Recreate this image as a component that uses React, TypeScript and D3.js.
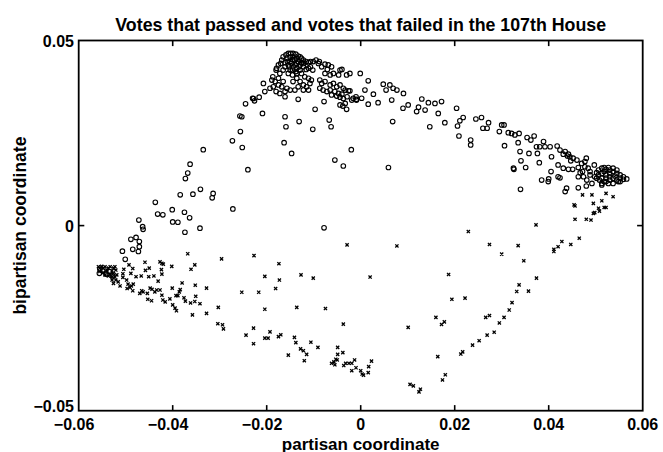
import React from 'react';
import * as d3 from 'd3';

const title = 'Votes that passed and votes that failed in the 107th House';
const xLabel = 'partisan coordinate';
const yLabel = 'bipartisan coordinate';
const xTicks = [-0.06, -0.04, -0.02, 0, 0.02, 0.04, 0.06];
const xTickLabels = ['\u22120.06', '\u22120.04', '\u22120.02', '0', '0.02', '0.04', '0.06'];
const yTicks = [-0.05, 0, 0.05];
const yTickLabels = ['\u22120.05', '0', '0.05'];

// votes that passed (circles): [partisan, bipartisan]
const passed: [number, number][] = [
  [-0.0556,-0.0129],[-0.0549,-0.0122],[-0.0542,-0.0131],[-0.0535,-0.0124],[-0.0528,-0.0136],[-0.0555,-0.0118],
  [-0.0507,-0.0069],[-0.0501,-0.0091],[-0.0485,-0.0064],[-0.0489,-0.0037],[-0.0478,-0.0032],[-0.0471,-0.0043],[-0.0471,-0.0057],[-0.0473,-0.0070],[-0.0472,0.0015],[-0.0464,-0.0003],[-0.0463,-0.0010],[-0.0437,0.0063],[-0.0432,0.0031],[-0.0421,0.0029],[-0.0401,0.0043],[-0.0400,0.0010],[-0.0389,0.0009],[-0.0375,0.0036],[-0.0364,0.0021],[-0.0374,-0.0018],[-0.0342,-0.0007],[-0.0272,0.0045],
  [-0.0273,0.0229],[-0.0256,0.0254],[-0.0252,0.0211],[-0.0240,0.0151],[-0.0257,0.0296],[-0.0253,0.0294],[-0.0245,0.0329],[-0.0230,0.0344],[-0.0226,0.0337],[-0.0216,0.0347],[-0.0335,0.0205],[-0.0363,0.0166],[-0.0368,0.0142],[-0.0373,0.0127],[-0.0384,0.0083],[-0.0357,0.0085],[-0.0341,0.0098],[-0.0316,0.0075],[-0.0314,0.0087],[-0.0078,-0.0006],
  [-0.0228,0.0343],[-0.0209,0.0303],[-0.0207,0.0384],[-0.0204,0.0362],[-0.0193,0.0371],[-0.0186,0.0375],[-0.0179,0.0425],[-0.0175,0.0398],[-0.0172,0.0411],[-0.0165,0.0420],[-0.0161,0.0348],[-0.0161,0.0294],[-0.0159,0.0267],[-0.0163,0.0224],[-0.0147,0.0195],[-0.0131,0.0281],[-0.0133,0.0341],[-0.0102,0.0260],[-0.0097,0.0314],[-0.0078,0.0335],[-0.0067,0.0285],[-0.0063,0.0267],[-0.0055,0.0177],[-0.0037,0.0161],[-0.0020,0.0205],[-0.0030,0.0314],[-0.0016,0.0344],[-0.0009,0.0339],[-0.0001,0.0411],[0.0016,0.0391],[0.0009,0.0366],[0.0016,0.0328],[0.0027,0.0355],[0.0037,0.0332],[0.0048,0.0382],[0.0054,0.0366],[0.0062,0.0380],[0.0069,0.0371],[0.0066,0.0339],[0.0068,0.0281],[0.0059,0.0157],[0.0077,0.0366],[0.0091,0.0357],[0.0090,0.0317],[0.0101,0.0326],[0.0119,0.0308],[0.0123,0.0320],[0.0130,0.0342],[0.0137,0.0312],[0.0144,0.0332],[0.0147,0.0267],[0.0158,0.0330],[0.0165,0.0303],[0.0172,0.0335],[0.0179,0.0278],
  [-0.0090,0.0438],[-0.0083,0.0429],[-0.0076,0.0436],[-0.0069,0.0434],[-0.0062,0.0429],[-0.0071,0.0422],[-0.0058,0.0411],[-0.0047,0.0407],[-0.0044,0.0420],[-0.0040,0.0422],[-0.0030,0.0407],[-0.0023,0.0411],[-0.0087,0.0393],[-0.0083,0.0384],[-0.0076,0.0389],[-0.0065,0.0380],[-0.0058,0.0384],[-0.0051,0.0375],[-0.0044,0.0380],[-0.0037,0.0371],[-0.0033,0.0366],[-0.0026,0.0364],[-0.0087,0.0371],[-0.0080,0.0366],[-0.0072,0.0362],[-0.0065,0.0366],[-0.0055,0.0362],[-0.0047,0.0357],[-0.0040,0.0355],[-0.0062,0.0353],[-0.0051,0.0350],[-0.0044,0.0347],[-0.0037,0.0343],[-0.0029,0.0348],[-0.0044,0.0326],[-0.0038,0.0323],[-0.0033,0.0330],[-0.0019,0.0339],[-0.0010,0.0348],[-0.0009,0.0341],[0.0002,0.0344],[-0.0023,0.0364],[-0.0076,0.0411],[-0.0065,0.0407],
  [-0.0189,0.0393],[-0.0182,0.0389],[-0.0187,0.0402],[-0.0180,0.0420],[-0.0175,0.0434],[-0.0170,0.0438],[-0.0168,0.0447],[-0.0165,0.0456],[-0.0159,0.0461],[-0.0154,0.0465],[-0.0149,0.0465],[-0.0144,0.0465],[-0.0138,0.0463],[-0.0133,0.0458],[-0.0129,0.0456],[-0.0126,0.0452],[-0.0122,0.0447],[-0.0116,0.0443],[-0.0111,0.0440],[-0.0107,0.0443],[-0.0101,0.0443],[-0.0095,0.0447],[-0.0088,0.0443],[-0.0161,0.0429],[-0.0154,0.0434],[-0.0150,0.0443],[-0.0145,0.0449],[-0.0140,0.0447],[-0.0136,0.0438],[-0.0129,0.0434],[-0.0122,0.0429],[-0.0116,0.0422],[-0.0111,0.0425],[-0.0107,0.0429],[-0.0102,0.0420],[-0.0129,0.0420],[-0.0136,0.0425],[-0.0144,0.0429],[-0.0150,0.0420],[-0.0154,0.0411],[-0.0145,0.0407],[-0.0136,0.0411],[-0.0126,0.0411],[-0.0119,0.0402],[-0.0111,0.0398],[-0.0105,0.0393],[-0.0129,0.0389],[-0.0122,0.0380],[-0.0115,0.0375],[-0.0136,0.0398],[-0.0144,0.0389],[-0.0133,0.0375],[-0.0122,0.0366],[-0.0111,0.0366],[-0.0108,0.0384],[-0.0165,0.0389],[-0.0168,0.0375],[-0.0157,0.0371],[-0.0150,0.0366],[-0.0140,0.0366],[-0.0161,0.0362],[-0.0172,0.0357],[-0.0180,0.0362],[-0.0175,0.0380],
  [-0.0157,0.0452],[-0.0150,0.0455],[-0.0144,0.0456],[-0.0136,0.0452],[-0.0147,0.0438],[-0.0140,0.0434],[-0.0133,0.0443],[-0.0126,0.0440],[-0.0156,0.0443],[-0.0161,0.0440],[-0.0152,0.0429],[-0.0145,0.0420],[-0.0138,0.0416],[-0.0131,0.0429],[-0.0122,0.0438],
  [0.0204,0.0317],[0.0206,0.0269],[0.0211,0.0283],[0.0218,0.0292],[0.0209,0.0242],[0.0234,0.0231],[0.0234,0.0218],[0.0245,0.0288],[0.0257,0.0292],[0.0260,0.0263],[0.0272,0.0278],[0.0269,0.0263],[0.0295,0.0254],[0.0300,0.0272],[0.0305,0.0272],[0.0314,0.0251],[0.0321,0.0249],[0.0328,0.0245],[0.0337,0.0249],[0.0335,0.0224],[0.0306,0.0216],[0.0339,0.0200],[0.0341,0.0175],[0.0340,0.0098],[0.0325,0.0155],[0.0326,0.0152],[0.0351,0.0157],[0.0358,0.0195],[0.0362,0.0231],[0.0354,0.0238],[0.0369,0.0242],[0.0374,0.0213],[0.0376,0.0195],[0.0380,0.0170],[0.0381,0.0213],[0.0392,0.0213],[0.0389,0.0227],[0.0403,0.0213],[0.0406,0.0186],[0.0405,0.0146],[0.0385,0.0123],[0.0399,0.0119],[0.0400,0.0126],[0.0418,0.0215],[0.0424,0.0204],[0.0435,0.0200],[0.0442,0.0193],[0.0440,0.0188],[0.0447,0.0175],[0.0431,0.0193],[0.0420,0.0164],[0.0431,0.0155],[0.0442,0.0152],[0.0451,0.0152],[0.0463,0.0157],[0.0467,0.0143],[0.0463,0.0132],[0.0420,0.0132],[0.0424,0.0129],[0.0438,0.0101],[0.0435,0.0092],[0.0463,0.0102],[0.0480,0.0107],[0.0477,0.0173],[0.0480,0.0182],[0.0488,0.0146],[0.0497,0.0164],[0.0492,0.0114],[0.0502,0.0128],[0.0513,0.0110],
  [0.0506,0.0150],[0.0513,0.0155],[0.0518,0.0157],[0.0522,0.0152],[0.0530,0.0150],[0.0537,0.0146],[0.0545,0.0141],[0.0552,0.0137],[0.0559,0.0132],[0.0566,0.0126],[0.0513,0.0141],[0.0522,0.0137],[0.0530,0.0132],[0.0537,0.0128],[0.0545,0.0123],[0.0552,0.0119],[0.0559,0.0125],[0.0508,0.0123],[0.0518,0.0119],[0.0527,0.0114],[0.0537,0.0114],[0.0548,0.0119],[0.0522,0.0128],[0.0530,0.0141],[0.0541,0.0134],[0.0552,0.0128],[0.0506,0.0137],[0.0513,0.0128],[0.0518,0.0146],[0.0527,0.0157],[0.0537,0.0155],[0.0545,0.0150],[0.0522,0.0119],[0.0530,0.0123],[0.0502,0.0143],[0.0498,0.0132],[0.0513,0.0114],
  [0.0445,0.0186],[0.0452,0.0182],[0.0460,0.0177],[0.0470,0.0168],[0.0477,0.0159],[0.0484,0.0155],[0.0488,0.0137],[0.0474,0.0132],[0.0481,0.0123],[0.0472,0.0146],
];

// votes that failed (crosses): [partisan, bipartisan]
const failed: [number, number][] = [
  [-0.0368,-0.0076],[-0.0296,-0.0090],[-0.0253,-0.0180],[-0.0328,-0.0169],[-0.0328,-0.0237],[-0.0303,-0.0221],[-0.0352,-0.0161],[-0.0351,-0.0191],[-0.0353,-0.0205],[-0.0362,-0.0209],[-0.0342,-0.0211],[-0.0358,-0.0241],[-0.0361,-0.0118],[-0.0353,-0.0106],[-0.0402,-0.0110],[-0.0380,-0.0155],[-0.0384,-0.0173],[-0.0386,-0.0179],[-0.0389,-0.0189],[-0.0393,-0.0189],[-0.0401,-0.0169],[-0.0406,-0.0198],[-0.0400,-0.0214],[-0.0395,-0.0223],[-0.0392,-0.0230],[-0.0376,-0.0195],[-0.0373,-0.0204],[-0.0420,-0.0104],[-0.0423,-0.0102],[-0.0427,-0.0098],[-0.0424,-0.0119],[-0.0423,-0.0131],[-0.0431,-0.0150],[-0.0440,-0.0136],[-0.0451,-0.0138],[-0.0458,-0.0121],[-0.0450,-0.0115],[-0.0459,-0.0099],[-0.0467,-0.0136],[-0.0478,-0.0138],[-0.0485,-0.0116],[-0.0489,-0.0129],[-0.0493,-0.0106],[-0.0504,-0.0118],[-0.0506,-0.0130],[-0.0506,-0.0140],[-0.0498,-0.0147],[-0.0495,-0.0158],[-0.0491,-0.0167],[-0.0488,-0.0163],[-0.0484,-0.0158],[-0.0485,-0.0176],[-0.0497,-0.0170],[-0.0512,-0.0163],[-0.0516,-0.0152],[-0.0521,-0.0147],[-0.0526,-0.0156],[-0.0529,-0.0138],[-0.0466,-0.0176],[-0.0470,-0.0183],[-0.0463,-0.0179],[-0.0454,-0.0183],[-0.0453,-0.0199],[-0.0445,-0.0203],[-0.0448,-0.0169],[-0.0444,-0.0172],[-0.0434,-0.0174],[-0.0438,-0.0179],[-0.0427,-0.0174],[-0.0423,-0.0188],[-0.0421,-0.0201],[-0.0416,-0.0206],[-0.0304,-0.0265],[-0.0294,-0.0268],[-0.0292,-0.0279],[-0.0244,-0.0296],
  [-0.0558,-0.0111],[-0.0555,-0.0115],[-0.0551,-0.0110],[-0.0548,-0.0115],[-0.0544,-0.0111],[-0.0540,-0.0120],[-0.0537,-0.0115],[-0.0533,-0.0111],[-0.0529,-0.0122],[-0.0526,-0.0115],[-0.0523,-0.0111],[-0.0555,-0.0124],[-0.0548,-0.0127],[-0.0540,-0.0124],[-0.0533,-0.0131],[-0.0526,-0.0129],[-0.0521,-0.0120],[-0.0519,-0.0133],[-0.0544,-0.0133],[-0.0529,-0.0147],[-0.0523,-0.0139],[-0.0537,-0.0136],
  [-0.0227,-0.0081],[-0.0174,-0.0103],[-0.0204,-0.0137],[-0.0173,-0.0147],[-0.0127,-0.0133],[-0.0101,-0.0142],[-0.0217,-0.0180],[-0.0181,-0.0170],[-0.0204,-0.0226],[-0.0136,-0.0221],[-0.0075,-0.0224],[-0.0029,-0.0052],[0.0077,-0.0055],[0.0020,-0.0139],[-0.0037,-0.0266],[-0.0228,-0.0277],[-0.0228,-0.0319],[-0.0193,-0.0287],[-0.0204,-0.0304],[-0.0197,-0.0304],[-0.0175,-0.0300],[-0.0170,-0.0295],[-0.0141,-0.0302],[-0.0138,-0.0316],[-0.0128,-0.0333],[-0.0122,-0.0338],[-0.0115,-0.0348],[-0.0154,-0.0350],[-0.0120,-0.0365],[-0.0106,-0.0315],[-0.0091,-0.0329],[-0.0049,-0.0329],[-0.0049,-0.0348],[-0.0038,-0.0343],[-0.0062,-0.0372],[-0.0057,-0.0368],[-0.0053,-0.0361],[-0.0050,-0.0363],[-0.0055,-0.0376],[-0.0036,-0.0378],[-0.0032,-0.0372],[-0.0025,-0.0372],[-0.0019,-0.0372],[-0.0013,-0.0363],[-0.0019,-0.0392],[-0.0010,-0.0384],[0.0000,-0.0392],[0.0003,-0.0401],[0.0006,-0.0404],[0.0016,-0.0397],[0.0017,-0.0381],[0.0023,-0.0366],[0.0101,-0.0275],[0.0105,-0.0429],[0.0112,-0.0433],[0.0124,-0.0449],[0.0127,-0.0442],[0.0164,-0.0354],[0.0174,-0.0417],[0.0180,-0.0403],[0.0160,-0.0248],[0.0172,-0.0267],[0.0178,-0.0260],[0.0187,-0.0132],[0.0238,-0.0323],[0.0252,-0.0311],[0.0269,-0.0296],[0.0284,-0.0288],[0.0295,-0.0263],[0.0266,-0.0248],[0.0274,-0.0243],[0.0213,-0.0347],[0.0217,-0.0341],
  [0.0472,0.0083],[0.0492,0.0083],[0.0513,0.0067],[0.0522,0.0087],[0.0537,0.0078],[0.0456,0.0053],[0.0454,0.0056],[0.0495,0.0060],[0.0506,0.0047],[0.0508,0.0039],[0.0518,0.0049],[0.0522,0.0049],[0.0495,0.0033],[0.0498,0.0035],[0.0456,0.0017],[0.0480,0.0017],[0.0490,0.0015],[0.0373,0.0002],[0.0229,-0.0016],[0.0274,-0.0051],[0.0300,-0.0077],[0.0335,-0.0054],[0.0347,-0.0095],[0.0374,-0.0142],[0.0337,-0.0160],[0.0332,-0.0178],[0.0357,-0.0177],[0.0411,-0.0064],[0.0411,-0.0070],[0.0420,-0.0057],[0.0428,-0.0043],[0.0447,-0.0051],[0.0465,-0.0034],[0.0222,-0.0196],[0.0194,-0.0199],
  [0.0305,-0.0248],[0.0316,-0.0228],[0.0322,-0.0208],
];

const W = 663;
const H = 452;
const plot = { left: 78.7, right: 642.7, top: 40.5, bottom: 410.7 };
const FONT = '"Liberation Sans", Arial, Helvetica, sans-serif';

export default function App() {
  const x = d3.scaleLinear().domain([-0.06, 0.06]).range([plot.left, plot.right]);
  const y = d3.scaleLinear().domain([-0.05, 0.05]).range([plot.bottom, plot.top]);
  const tickLen = 5.6;
  const half = 15.6; // half width of the unsigned label at 16px
  const cx = (plot.left + plot.right) / 2;
  const cy = (plot.top + plot.bottom) / 2;
  const crossPath = 'M-1.6,-1.6L1.6,1.6M-1.6,1.6L1.6,-1.6';

  return (
    <svg width={W} height={H} style={{ position: 'absolute', left: 0, top: 0, background: '#fff' }}
      fontFamily={FONT} fontWeight="bold">
      <rect x={0} y={0} width={W} height={H} fill="#fff" />
      <g>
        {passed.map((d, i) => (
          <circle key={'p' + i} cx={x(d[0])} cy={y(d[1])} r={2.3} fill="none" stroke="#000" strokeWidth={1.1} />
        ))}
        {failed.map((d, i) => (
          <path key={'f' + i} d={crossPath} transform={`translate(${x(d[0])},${y(d[1])})`} stroke="#000" strokeWidth={1.3} fill="none" />
        ))}
      </g>
      <rect x={plot.left} y={plot.top} width={plot.right - plot.left} height={plot.bottom - plot.top}
        fill="none" stroke="#000" strokeWidth={1.8} />
      {xTicks.slice(1, -1).map((t) => (
        <g key={'xt' + t}>
          <line x1={x(t)} x2={x(t)} y1={plot.bottom} y2={plot.bottom - tickLen} stroke="#000" strokeWidth={1.6} />
          <line x1={x(t)} x2={x(t)} y1={plot.top} y2={plot.top + tickLen} stroke="#000" strokeWidth={1.6} />
        </g>
      ))}
      {yTicks.slice(1, -1).map((t) => (
        <g key={'yt' + t}>
          <line x1={plot.left} x2={plot.left + tickLen} y1={y(t)} y2={y(t)} stroke="#000" strokeWidth={1.6} />
          <line x1={plot.right} x2={plot.right - tickLen} y1={y(t)} y2={y(t)} stroke="#000" strokeWidth={1.6} />
        </g>
      ))}
      {xTicks.map((t, i) => (
        <text key={'xl' + i} x={t < 0 ? x(t) + half : x(t)} y={430} fontSize={16}
          textAnchor={t < 0 ? 'end' : 'middle'}>{xTickLabels[i]}</text>
      ))}
      {yTicks.map((t, i) => (
        <text key={'yl' + i} x={plot.left - 4.7} y={y(t) + (i === 0 ? 1 : 6)} fontSize={16} textAnchor="end">{yTickLabels[i]}</text>
      ))}
      <text x={cx} y={31} fontSize={17.8} textAnchor="middle">{title}</text>
      <text x={cx} y={449.5} fontSize={17} textAnchor="middle">{xLabel}</text>
      <text transform={`translate(26,${cy}) rotate(-90)`} fontSize={17.5} textAnchor="middle">{yLabel}</text>
    </svg>
  );
}
